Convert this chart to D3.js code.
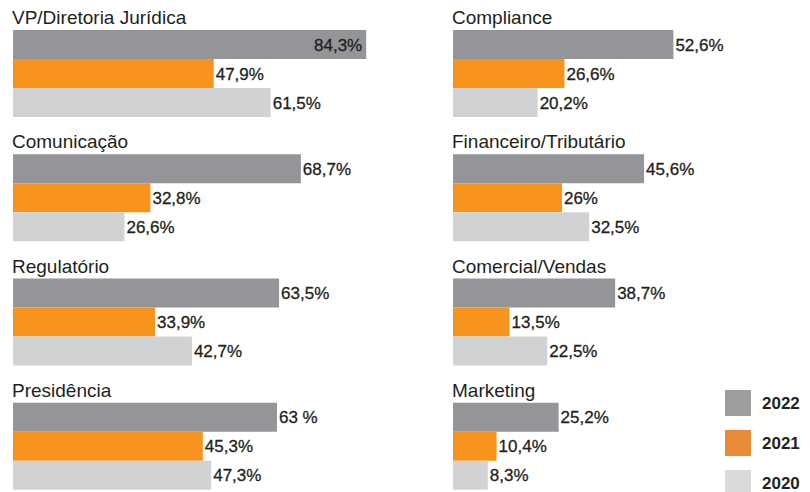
<!DOCTYPE html>
<html>
<head>
<meta charset="utf-8">
<script src="https://cdn.jsdelivr.net/npm/d3@7"></script>
<style>
  body { margin: 0; background: #fff; }
  svg { display: block; font-family: "Liberation Sans", Arial, Helvetica, sans-serif; }
  .title { font-size: 19px; fill: #231f20; }
  .value { font-size: 17px; fill: #231f20; stroke: #231f20; stroke-width: 0.3px; }
  .legendText { font-size: 17px; font-weight: bold; fill: #231f20; }
</style>
</head>
<body>
<div class="chart"></div>
<script>
(function(){
    // Data
    const categories = ["VP/Diretoria Jurídica", "Comunicação", "Regulatório", "Presidência",
        "Compliance", "Financeiro/Tributário", "Comercial/Vendas", "Marketing"];
    const years = ["2022", "2021", "2020"];
    const values2022 = [84.3, 68.7, 63.5, 63, 52.6, 45.6, 38.7, 25.2];
    const values2021 = [47.9, 32.8, 33.9, 45.3, 26.6, 26, 13.5, 10.4];
    const values2020 = [61.5, 26.6, 42.7, 47.3, 20.2, 32.5, 22.5, 8.3];
    const labels2022 = ["84,3%", "68,7%", "63,5%", "63 %", "52,6%", "45,6%", "38,7%", "25,2%"];
    const labels2021 = ["47,9%", "32,8%", "33,9%", "45,3%", "26,6%", "26%", "13,5%", "10,4%"];
    const labels2020 = ["61,5%", "26,6%", "42,7%", "47,3%", "20,2%", "32,5%", "22,5%", "8,3%"];

    const svgWidth = 810,
        svgHeight = 492;

    const barColors = {"2022": "#949598", "2021": "#f7941e", "2020": "#d1d2d4"};
    const legendColors = {"2022": "#9d9d9b", "2021": "#e98b36", "2020": "#dadada"};

    const svg = d3.select(".chart")
        .append("svg")
        .attr("width", svgWidth)
        .attr("height", svgHeight);

    // Build one record per panel
    const panels = categories.map((c, i) => ({
        name: c,
        col: Math.floor(i / 4),
        row: i % 4,
        bars: [
            {year: "2022", value: values2022[i], label: labels2022[i]},
            {year: "2021", value: values2021[i], label: labels2021[i]},
            {year: "2020", value: values2020[i], label: labels2020[i]}
        ]
    }));

    // Scales
    const colScale = d3.scaleOrdinal().domain([0, 1]).range([13, 453]);
    const rowScale = d3.scaleBand().domain([0, 1, 2, 3]).range([30, 527]).paddingInner(0);
    const x = d3.scaleLinear().domain([0, 100]).range([0, 419]);
    const y = d3.scaleBand().domain(years).range([0, 87]).padding(0);

    const groups = svg.selectAll("g.panel")
        .data(panels)
        .enter()
        .append("g")
        .attr("class", "panel")
        .attr("transform", d => `translate(${colScale(d.col)}, ${rowScale(d.row)})`);

    groups.append("text")
        .attr("class", "title")
        .attr("x", -1)
        .attr("y", -6)
        .text(d => d.name);

    groups.selectAll("rect")
        .data(d => d.bars)
        .enter()
        .append("rect")
        .attr("x", 0)
        .attr("y", d => y(d.year))
        .attr("width", d => x(d.value))
        .attr("height", y.bandwidth())
        .attr("fill", d => barColors[d.year]);

    // Value labels: inside the bar when it would overflow the column
    groups.selectAll("text.value")
        .data(d => d.bars)
        .enter()
        .append("text")
        .attr("class", "value")
        .attr("y", d => y(d.year) + y.bandwidth() / 2 + 6)
        .attr("x", d => x(d.value) > 340 ? x(d.value) - 4 : x(d.value) + 2)
        .attr("text-anchor", d => x(d.value) > 340 ? "end" : "start")
        .text(d => d.label);

    // Legend
    const legendY = d3.scaleBand().domain(years).range([390, 510]);
    const legend = svg.selectAll("g.legend")
        .data(years)
        .enter()
        .append("g")
        .attr("class", "legend")
        .attr("transform", d => `translate(725, ${legendY(d)})`);

    legend.append("rect")
        .attr("width", 26)
        .attr("height", 26)
        .attr("fill", d => legendColors[d]);

    legend.append("text")
        .attr("class", "legendText")
        .attr("x", 37)
        .attr("y", 19)
        .text(d => d);
})()
</script>
</body>
</html>
